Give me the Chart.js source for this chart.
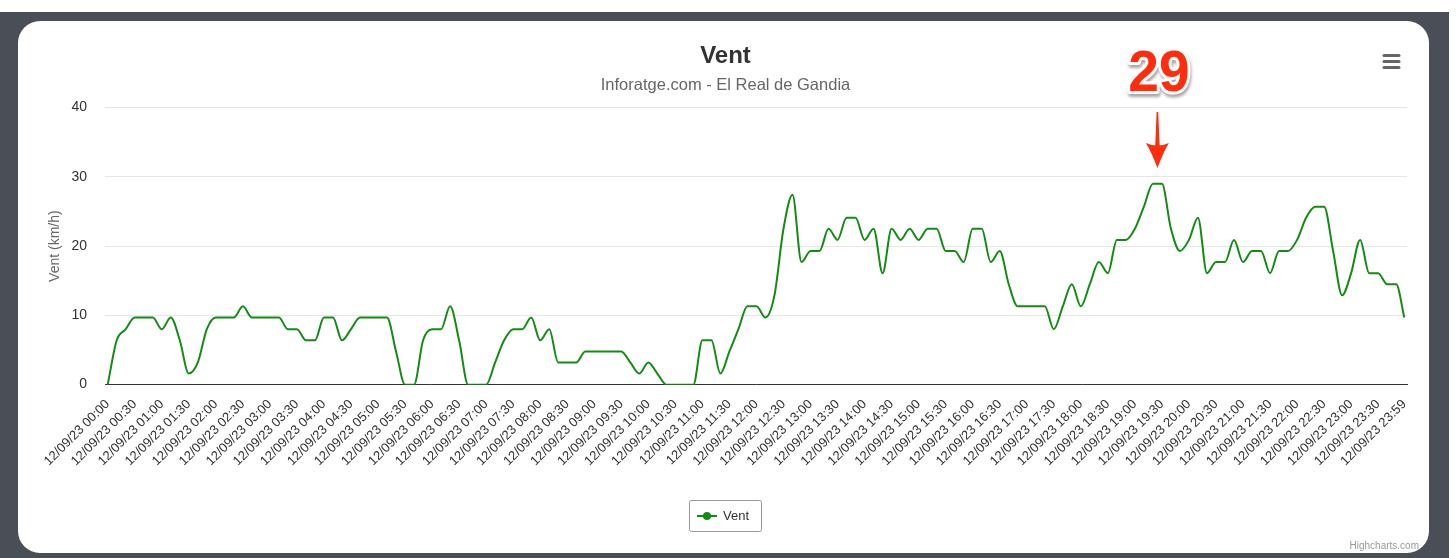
<!DOCTYPE html>
<html>
<head>
<meta charset="utf-8">
<script src="https://cdn.jsdelivr.net/npm/chart.js@4.4.1/dist/chart.umd.min.js"></script>
<style>
  html, body { margin: 0; padding: 0; background: #fff; }
  body { width: 1456px; height: 558px; position: relative; overflow: hidden; }
  .frame { position: absolute; left: 0; top: 12px; width: 1449px; height: 546px; background: #4a4e57; }
  .card { position: absolute; left: 18px; top: 21px; width: 1411px; height: 532px; background: #fff; border-radius: 22px; }
  #chart { position: absolute; left: 0; top: 0; }
</style>
</head>
<body>
<div class="frame"></div>
<div class="card"></div>
<canvas id="chart" width="1456" height="558"></canvas>
<script>
const FONT = "'Liberation Sans', Arial, Helvetica, sans-serif";
const DAY = '12/09/23';

// readings every 10 minutes, last one at 23:59
const sampleStep = 10;
const lastSample = '23:59';

// wind speed (km/h), one row per hour
const windKmh = [
  0, 6.4, 8.0, 9.7, 9.7, 9.7,          // 00h
  8.0, 9.7, 6.4, 1.6, 3.2, 8.0,        // 01h
  9.7, 9.7, 9.7, 11.3, 9.7, 9.7,       // 02h
  9.7, 9.7, 8.0, 8.0, 6.4, 6.4,        // 03h
  9.7, 9.7, 6.4, 8.0, 9.7, 9.7,        // 04h
  9.7, 9.7, 4.8, 0, 0, 6.4,            // 05h
  8.0, 8.0, 11.3, 6.4, 0, 0,           // 06h
  0, 3.2, 6.4, 8.0, 8.0, 9.7,          // 07h
  6.4, 8.0, 3.2, 3.2, 3.2, 4.8,        // 08h
  4.8, 4.8, 4.8, 4.8, 3.2, 1.6,        // 09h
  3.2, 1.6, 0, 0, 0, 0,                // 10h
  6.4, 6.4, 1.6, 4.8, 8.0, 11.3,       // 11h
  11.3, 9.7, 12.9, 22.5, 27.4, 17.7,   // 12h
  19.3, 19.3, 22.5, 20.9, 24.1, 24.1,  // 13h
  20.9, 22.5, 16.1, 22.5, 20.9, 22.5,  // 14h
  20.9, 22.5, 22.5, 19.3, 19.3, 17.7,  // 15h
  22.5, 22.5, 17.7, 19.3, 14.5, 11.3,  // 16h
  11.3, 11.3, 11.3, 8.0, 11.3, 14.5,   // 17h
  11.3, 14.5, 17.7, 16.1, 20.9, 20.9,  // 18h
  22.5, 25.7, 29.0, 29.0, 22.5, 19.3,  // 19h
  20.9, 24.1, 16.1, 17.7, 17.7, 20.9,  // 20h
  17.7, 19.3, 19.3, 16.1, 19.3, 19.3,  // 21h
  20.9, 24.1, 25.7, 25.7, 19.3, 12.9,  // 22h
  16.1, 20.9, 16.1, 16.1, 14.5, 14.5,  // 23h
  9.7                                   // 23:59
];

const tickTimes = [
  '00:00', '00:30', '01:00', '01:30', '02:00', '02:30', '03:00', '03:30',
  '04:00', '04:30', '05:00', '05:30', '06:00', '06:30', '07:00', '07:30',
  '08:00', '08:30', '09:00', '09:30', '10:00', '10:30', '11:00', '11:30',
  '12:00', '12:30', '13:00', '13:30', '14:00', '14:30', '15:00', '15:30',
  '16:00', '16:30', '17:00', '17:30', '18:00', '18:30', '19:00', '19:30',
  '20:00', '20:30', '21:00', '21:30', '22:00', '22:30', '23:00', '23:30',
  '23:59'
];

function toMin(hhmm) {
  const [h, m] = hhmm.split(':').map(Number);
  return h * 60 + m;
}

function fmtMin(min) {
  const h = Math.floor(min / 60);
  const m = Math.round(min % 60);
  return String(h).padStart(2, '0') + ':' + String(m).padStart(2, '0');
}

const sampleTimes = [];
for (let i = 0; i < windKmh.length - 1; i++) sampleTimes.push(fmtMin(i * sampleStep));
sampleTimes.push(lastSample);

const points = windKmh.map((v, i) => ({ x: toMin(sampleTimes[i]), y: v }));

const extras = {
  id: 'extras',
  afterDraw(chart) {
    const c = chart.ctx;
    const xs = chart.scales.x;
    c.save();

    // menu icon
    c.strokeStyle = '#666';
    c.lineWidth = 3;
    c.lineCap = 'round';
    [55.5, 61.5, 67.5].forEach((y) => {
      c.beginPath();
      c.moveTo(1384, y);
      c.lineTo(1399, y);
      c.stroke();
    });

    // legend
    const lx = 689, ly = 500, lw = 72, lh = 31;
    c.strokeStyle = '#999';
    c.lineWidth = 1;
    c.beginPath();
    c.roundRect(lx + 0.5, ly + 0.5, lw, lh, 2);
    c.stroke();
    const ds = chart.data.datasets[0];
    c.strokeStyle = ds.borderColor;
    c.lineWidth = 2;
    c.lineCap = 'butt';
    c.beginPath();
    c.moveTo(lx + 8, ly + 16);
    c.lineTo(lx + 28, ly + 16);
    c.stroke();
    c.fillStyle = ds.borderColor;
    c.beginPath();
    c.arc(lx + 18, ly + 16, 4, 0, Math.PI * 2);
    c.fill();
    c.fillStyle = '#333';
    c.font = '13px ' + FONT;
    c.textAlign = 'left';
    c.textBaseline = 'middle';
    c.fillText(ds.label, lx + 34, ly + 16);

    // credits
    c.fillStyle = '#999';
    c.font = '10px ' + FONT;
    c.textAlign = 'right';
    c.textBaseline = 'alphabetic';
    c.fillText('Highcharts.com', 1419, 549);

    // peak marker
    const peak = Math.max(...windKmh);
    const px = windKmh
      .map((v, i) => (v === peak ? xs.getPixelForValue(toMin(sampleTimes[i])) : null))
      .filter((v) => v !== null);
    const ax = (Math.min(...px) + Math.max(...px)) / 2;
    c.fillStyle = '#ff2d0c';
    c.beginPath();
    c.moveTo(ax - 0.8, 112);
    c.lineTo(ax + 0.8, 112);
    c.lineTo(ax + 2.2, 146);
    c.lineTo(ax - 2.2, 146);
    c.closePath();
    c.fill();
    c.beginPath();
    c.moveTo(ax - 11.5, 143);
    c.quadraticCurveTo(ax - 6, 152, ax, 168);
    c.quadraticCurveTo(ax + 6, 152, ax + 11.5, 143);
    c.quadraticCurveTo(ax, 148, ax - 11.5, 143);
    c.fill();

    c.translate(ax + 1.5, 91);
    c.scale(0.95, 1);
    c.font = 'bold 58px ' + FONT;
    c.textAlign = 'center';
    c.textBaseline = 'alphabetic';
    c.lineJoin = 'round';
    c.shadowColor = 'rgba(0,0,0,0.35)';
    c.shadowOffsetX = 1;
    c.shadowOffsetY = 3;
    c.shadowBlur = 3;
    c.strokeStyle = '#fff';
    c.lineWidth = 6;
    c.strokeText(String(Math.round(peak)), 0, 0);
    c.shadowColor = 'transparent';
    c.fillStyle = '#ff2d0c';
    c.fillText(String(Math.round(peak)), 0, 0);
    c.restore();
  },
};

new Chart(document.getElementById('chart').getContext('2d'), {
  type: 'line',
  data: {
    datasets: [{
      label: 'Vent',
      data: points,
      borderColor: '#128c12',
      backgroundColor: '#128c12',
      borderWidth: 2,
      pointRadius: 0,
      cubicInterpolationMode: 'monotone',
      fill: false,
    }],
  },
  options: {
    responsive: false,
    animation: false,
    layout: { padding: { left: 44, right: 49, top: 0, bottom: 77 } },
    plugins: {
      legend: { display: false },
      tooltip: { enabled: false },
      title: {
        display: true,
        text: 'Vent',
        color: '#333',
        font: { family: FONT, size: 24, weight: 'bold' },
        padding: { top: 42, bottom: 0 },
      },
      subtitle: {
        display: true,
        text: 'Inforatge.com - El Real de Gandia',
        color: '#666',
        font: { family: FONT, size: 16.5 },
        padding: { top: 5, bottom: 12 },
      },
    },
    scales: {
      x: {
        type: 'linear',
        min: -3,
        max: 1442,
        afterBuildTicks(axis) {
          axis.ticks = tickTimes.map((t) => ({ value: toMin(t) }));
        },
        afterFit(axis) {
          axis.paddingLeft = 0;
          axis.paddingRight = 0;
        },
        ticks: {
          autoSkip: false,
          minRotation: 45,
          maxRotation: 45,
          padding: 12,
          color: '#333',
          font: { family: FONT, size: 13 },
          callback: (value) => DAY + ' ' + fmtMin(value),
        },
        grid: { display: false, drawTicks: false },
        border: { display: true, color: '#333', width: 1 },
      },
      y: {
        min: 0,
        max: 40,
        afterFit(axis) {
          axis.width = 61;
        },
        ticks: { stepSize: 10, padding: 18, color: '#333', font: { family: FONT, size: 14 } },
        grid: { color: '#e6e6e6', drawTicks: false },
        border: { display: false },
        title: {
          display: true,
          text: 'Vent (km/h)',
          color: '#666',
          font: { family: FONT, size: 14 },
          padding: { top: 3, bottom: 8 },
        },
      },
    },
  },
  plugins: [extras],
});
</script>
</body>
</html>
